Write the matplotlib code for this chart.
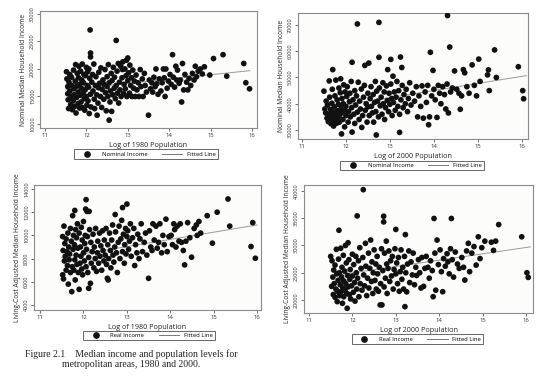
import matplotlib
matplotlib.use("Agg")
import matplotlib.pyplot as plt
from matplotlib.lines import Line2D

plt.rcParams['font.family'] = ['Open Sans', 'DejaVu Sans']

# ---------------- Panel 1: 1980 nominal (x = log pop, y = income in $1000) ----------------
p1 = [(11.52,19.5),(11.53,18.2),(11.55,16.8),(11.55,15.5),(11.56,14.4),(11.57,12.8),(11.58,17.6),(11.6,19.0),(11.6,16.0),(11.62,13.5),(11.63,15.0),(11.64,18.5),(11.65,17.0),(11.66,12.6),(11.68,14.2),(11.69,19.8),(11.7,16.4),(11.7,15.3),
(11.72,13.2),(11.73,17.8),(11.74,20.8),(11.75,12.0),(11.76,14.8),(11.77,16.9),(11.78,19.2),(11.8,15.8),(11.8,13.7),(11.81,18.4),(11.82,20.5),(11.83,17.2),(11.84,12.9),(11.85,15.2),(11.86,19.6),(11.87,14.0),(11.88,16.5),(11.89,18.0),(11.9,20.9),(11.9,13.0),
(11.92,15.6),(11.93,17.5),(11.94,19.0),(11.95,14.6),(11.96,12.5),(11.97,16.2),(11.98,18.8),(12.0,20.3),(12.0,15.0),(12.01,13.4),(12.02,17.0),(12.03,19.5),(12.04,14.2),(12.05,16.7),(12.06,20.0),(12.07,11.9),(12.08,18.3),(12.09,27.1),(12.1,22.9),(12.1,22.2),(12.1,15.4),(12.11,13.1),
(12.13,17.6),(12.15,19.0),(12.16,16.0),(12.18,20.9),(12.19,14.5),(12.2,12.8),(12.22,17.0),(12.23,18.6),(12.25,15.3),(12.26,11.6),(12.28,13.8),(12.29,16.6),(12.3,19.4),(12.32,17.4),(12.34,15.0),(12.35,20.2),(12.37,13.0),(12.38,16.3),(12.4,18.0),
(12.42,14.5),(12.43,17.2),(12.45,19.9),(12.46,15.7),(12.48,12.4),(12.5,16.8),(12.5,18.6),(12.52,15.0),(12.53,20.8),(12.55,10.7),(12.55,17.5),(12.57,14.0),(12.58,16.0),(12.6,19.2),(12.61,12.3),(12.62,17.9),(12.64,15.3),(12.65,20.3),(12.67,16.5),(12.68,18.5),(12.7,14.6),(12.72,25.2),(12.72,17.0),
(12.74,19.6),(12.75,15.6),(12.77,21.0),(12.78,13.8),(12.8,17.6),(12.81,16.2),(12.83,20.5),(12.84,15.0),(12.86,18.4),(12.87,19.9),(12.88,21.3),(12.9,15.5),(12.91,17.2),(12.93,20.0),(12.94,16.4),(12.96,18.8),(12.97,21.6),(12.98,15.0),(13.0,22.0),(13.0,17.9),
(13.02,19.3),(13.04,15.6),(13.05,20.7),(13.07,17.0),(13.09,18.4),(13.1,15.0),(13.12,19.8),(13.14,16.5),(13.16,17.8),(13.18,15.0),(13.2,18.9),(13.22,16.2),(13.25,17.5),(13.27,15.0),(13.3,19.9),(13.32,16.8),(13.35,18.2),(13.37,15.0),(13.4,19.2),(13.42,17.0),(13.45,15.8),(13.5,11.6),
(13.52,18.0),(13.55,16.4),(13.58,17.5),(13.6,15.8),(13.63,18.5),(13.66,16.8),(13.68,20.0),(13.7,17.3),(13.73,15.4),(13.76,18.2),(13.8,16.0),(13.83,17.5),(13.86,20.0),(13.88,18.4),(13.9,15.0),(13.92,20.0),(13.95,16.5),(13.98,17.8),
(14.02,19.0),(14.05,17.2),(14.08,22.6),(14.1,18.5),(14.13,16.7),(14.16,20.5),(14.18,18.0),(14.2,19.8),(14.24,17.4),(14.27,18.0),(14.3,14.0),(14.32,21.0),(14.35,16.2),(14.38,19.0),(14.42,17.6),(14.45,16.2),(14.48,18.3),
(14.52,17.0),(14.56,19.2),(14.6,18.0),(14.63,20.5),(14.66,18.6),(14.7,19.6),(14.75,20.0),(14.8,19.1),(14.85,20.4),(14.98,18.9),
(15.07,21.9),(15.3,22.6),(15.39,18.7),(15.8,21.0),(15.85,17.5),(15.94,16.4)]
nominal_1980_x = [p[0] for p in p1]
nominal_1980_y = [p[1] * 1000 for p in p1]
fit_1980_nom_x = [11.5, 15.95]
fit_1980_nom_y = [16200, 19700]

# ---------------- Panel 2: 2000 nominal ----------------
p2 = [(11.5,44.8),(11.52,38.0),(11.54,36.5),(11.55,41.0),(11.57,34.5),(11.58,39.5),(11.6,33.2),(11.6,36.0),(11.62,48.7),(11.63,42.5),(11.64,35.0),(11.65,37.8),(11.66,32.4),(11.67,34.0),(11.68,40.2),(11.69,45.5),(11.7,53.0),(11.7,36.8),(11.71,33.5),
(11.72,31.5),(11.73,35.5),(11.74,38.8),(11.75,43.0),(11.76,34.2),(11.77,49.0),(11.78,36.0),(11.79,32.6),(11.8,41.5),(11.8,37.3),(11.82,34.8),(11.83,39.8),(11.84,46.0),(11.85,33.0),(11.86,35.8),(11.87,44.2),(11.88,49.5),(11.89,38.2),(11.9,28.5),(11.9,36.6),(11.91,42.0),
(11.93,34.0),(11.94,40.0),(11.95,47.2),(11.96,37.5),(11.97,31.2),(11.98,44.5),(12.0,35.5),(12.0,39.0),(12.02,42.8),(12.03,46.5),(12.05,33.0),(12.06,37.0),(12.08,40.8),(12.09,44.0),(12.1,35.0),(12.12,48.5),(12.13,38.5),(12.14,55.8),(12.14,29.2),(12.16,41.5),(12.18,36.0),(12.2,45.0),(12.2,32.5),
(12.22,39.5),(12.24,43.0),(12.26,70.4),(12.26,36.8),(12.28,48.2),(12.3,34.0),(12.31,41.0),(12.33,38.0),(12.35,45.6),(12.36,31.0),(12.38,35.5),(12.4,42.5),(12.42,47.0),(12.43,54.6),(12.44,37.5),(12.46,40.0),(12.48,33.0),(12.5,44.0),(12.5,38.8),
(12.52,55.5),(12.53,35.5),(12.55,42.0),(12.57,46.5),(12.58,39.0),(12.6,36.5),(12.62,43.5),(12.63,33.0),(12.65,40.5),(12.67,48.5),(12.68,37.0),(12.69,28.1),(12.7,44.8),(12.72,41.0),(12.74,35.0),(12.75,71.0),(12.75,57.7),(12.76,46.0),(12.78,39.2),
(12.8,42.5),(12.82,36.0),(12.84,48.0),(12.85,40.0),(12.87,44.5),(12.88,34.0),(12.9,38.5),(12.92,46.8),(12.94,41.2),(12.95,53.0),(12.97,37.0),(12.98,44.0),(13.0,39.8),(13.02,56.9),(13.02,47.5),(13.04,42.0),(13.05,35.5),(13.07,50.5),(13.08,40.5),(13.1,44.5),
(13.12,37.5),(13.14,42.5),(13.16,48.5),(13.18,39.0),(13.2,45.0),(13.22,29.1),(13.22,36.0),(13.24,57.8),(13.25,41.5),(13.27,53.8),(13.28,47.0),(13.3,38.5),(13.32,43.5),(13.35,40.0),(13.37,45.5),(13.4,37.0),(13.42,42.0),(13.45,48.0),(13.48,39.5),
(13.52,44.0),(13.56,41.0),(13.6,46.5),(13.63,35.0),(13.66,43.0),(13.7,39.0),(13.73,46.8),(13.76,34.5),(13.8,44.5),(13.83,40.5),(13.86,47.0),(13.88,32.0),(13.9,35.0),(13.92,59.6),(13.95,43.0),(13.98,52.7),(14.0,45.5),
(14.03,41.5),(14.07,34.8),(14.1,47.0),(14.13,44.0),(14.16,40.0),(14.2,46.5),(14.24,43.5),(14.27,38.0),(14.3,47.5),(14.31,73.6),(14.33,36.5),(14.36,61.6),(14.38,44.5),(14.42,46.0),(14.47,52.5),
(14.52,45.5),(14.57,44.0),(14.6,37.9),(14.63,43.0),(14.67,53.0),(14.7,51.8),(14.75,46.5),(14.8,44.0),(14.87,54.8),(14.92,47.0),(14.97,43.0),(15.02,57.0),
(15.05,48.5),(15.22,51.0),(15.24,52.9),(15.26,45.0),(15.38,60.5),(15.42,50.0),(15.92,54.1),(16.02,45.0),(16.04,41.9)]
nominal_2000_x = [p[0] for p in p2]
nominal_2000_y = [p[1] * 1000 for p in p2]
fit_2000_nom_x = [11.5, 16.1]
fit_2000_nom_y = [38300, 50700]

# ---------------- Panel 3: 1980 real ----------------
p3 = [(11.52,9.9),(11.52,6.6),(11.53,8.7),(11.54,6.25),(11.55,10.8),(11.56,7.8),(11.57,9.3),(11.58,8.2),(11.6,7.0),(11.6,9.7),(11.62,8.6),(11.63,7.4),(11.64,10.2),(11.65,5.8),(11.66,9.0),(11.67,7.9),(11.68,8.4),(11.7,6.8),(11.7,10.6),
(11.72,9.5),(11.73,5.15),(11.74,7.3),(11.75,11.7),(11.76,8.8),(11.77,10.0),(11.78,7.0),(11.79,9.2),(11.8,12.15),(11.8,7.9),(11.81,6.16),(11.82,10.5),(11.83,8.3),(11.84,9.8),(11.85,7.5),(11.86,11.0),(11.87,8.9),(11.88,6.8),(11.9,5.35),(11.9,10.2),
(11.92,7.6),(11.93,9.0),(11.94,8.2),(11.95,10.7),(11.96,7.1),(11.97,9.6),(11.98,6.6),(12.0,8.5),(12.0,11.2),(12.02,7.8),(12.03,9.3),(12.04,10.0),(12.05,12.27),(12.06,13.08),(12.06,7.3),(12.07,8.8),(12.08,12.07),(12.09,9.9),(12.1,6.8),(12.12,5.44),(12.12,8.1),(12.13,12.07),(12.14,10.5),(12.16,5.87),(12.17,9.4),(12.18,7.6),(12.2,8.6),
(12.22,10.1),(12.24,7.2),(12.25,9.0),(12.27,8.0),(12.28,10.6),(12.3,6.9),(12.32,8.5),(12.33,9.5),(12.35,7.6),(12.37,10.2),(12.38,8.2),(12.4,9.1),(12.42,7.0),(12.44,10.4),(12.45,8.7),(12.47,7.8),(12.48,9.6),(12.5,8.3),
(12.52,10.6),(12.53,7.5),(12.55,6.3),(12.56,9.2),(12.57,6.16),(12.58,8.0),(12.6,10.2),(12.62,8.7),(12.63,7.2),(12.65,9.6),(12.67,10.9),(12.68,8.3),(12.7,7.7),(12.72,9.0),(12.73,11.8),(12.74,10.3),(12.76,8.5),(12.78,6.8),(12.8,9.4),
(12.82,10.8),(12.84,8.0),(12.86,9.7),(12.88,11.3),(12.9,12.4),(12.9,8.6),(12.92,10.1),(12.94,7.6),(12.95,9.2),(12.97,10.6),(12.98,8.4),(13.0,12.7),(13.0,9.9),(13.02,10.4),(13.04,8.8),(13.06,9.5),(13.08,11.0),
(13.1,8.2),(13.13,9.8),(13.16,10.6),(13.18,7.4),(13.2,9.2),(13.23,8.5),(13.25,10.1),(13.28,8.0),(13.3,9.7),(13.33,11.0),(13.36,8.6),(13.4,9.4),(13.43,10.2),(13.46,8.3),(13.5,6.3),
(13.52,10.4),(13.55,9.0),(13.58,8.7),(13.6,11.0),(13.63,9.6),(13.67,10.8),(13.7,8.9),(13.73,9.4),(13.76,11.0),(13.8,8.5),(13.83,10.0),(13.86,9.2),(13.9,11.4),(13.93,8.6),(13.97,9.9),
(14.02,10.0),(14.05,9.2),(14.08,11.0),(14.1,10.5),(14.13,9.0),(14.16,10.8),(14.2,9.5),(14.23,11.0),(14.26,9.4),(14.3,8.7),(14.33,7.46),(14.36,9.5),(14.4,11.1),(14.45,9.8),(14.49,8.12),
(14.55,10.6),(14.6,10.9),(14.62,10.0),(14.66,11.2),(14.7,10.2),(14.85,11.7),(14.97,9.33),(15.08,12.0),(15.33,13.14),(15.37,10.8),(15.86,9.04),(15.9,11.1),(15.96,8.03)]
real_1980_x = [p[0] for p in p3]
real_1980_y = [p[1] * 1000 for p in p3]
fit_1980_real_x = [11.5, 16.0]
fit_1980_real_y = [8100, 10900]

# ---------------- Panel 4: 2000 real ----------------
p4 = [(11.5,28.0),(11.52,22.5),(11.53,27.2),(11.55,24.2),(11.56,21.0),(11.57,25.5),(11.58,23.0),(11.6,20.5),(11.6,26.4),(11.62,22.0),(11.63,29.3),(11.64,24.8),(11.65,19.7),(11.66,21.6),(11.67,23.6),(11.68,27.5),(11.69,32.8),(11.7,25.0),(11.7,20.8),
(11.72,22.8),(11.73,29.5),(11.74,21.5),(11.75,24.2),(11.76,26.0),(11.77,19.4),(11.78,22.2),(11.79,28.2),(11.8,23.5),(11.8,20.6),(11.82,25.3),(11.83,21.8),(11.84,30.0),(11.85,23.0),(11.86,26.8),(11.87,21.2),(11.88,18.48),(11.89,24.5),(11.9,22.4),(11.9,30.5),
(11.92,27.4),(11.93,21.0),(11.94,23.8),(11.95,25.6),(11.96,20.2),(11.98,22.6),(12.0,28.4),(12.0,24.4),(12.02,21.4),(12.03,26.5),(12.05,23.2),(12.06,19.8),(12.08,28.0),(12.09,25.0),(12.1,22.0),(12.11,35.43),(12.12,24.0),(12.14,27.2),(12.15,20.6),(12.17,29.6),(12.18,23.0),(12.2,25.8),
(12.22,21.8),(12.24,27.8),(12.25,40.24),(12.26,24.6),(12.28,22.6),(12.3,30.4),(12.31,26.2),(12.33,20.8),(12.35,24.0),(12.37,28.6),(12.38,22.2),(12.4,25.8),(12.42,31.0),(12.44,23.4),(12.45,27.0),(12.47,21.2),(12.48,25.0),(12.5,29.2),
(12.52,23.6),(12.54,26.6),(12.55,22.0),(12.57,28.0),(12.58,24.8),(12.6,21.6),(12.62,26.0),(12.64,19.1),(12.65,23.0),(12.67,29.4),(12.68,19.1),(12.7,25.4),(12.72,35.37),(12.72,34.33),(12.73,22.4),(12.74,28.6),(12.76,24.0),(12.78,30.8),(12.79,26.6),
(12.8,21.2),(12.82,25.8),(12.84,29.0),(12.86,23.4),(12.88,27.2),(12.9,24.4),(12.92,28.0),(12.94,22.0),(12.96,25.6),(12.98,29.4),(13.0,32.95),(13.0,24.8),(13.02,26.8),(13.04,23.0),(13.06,27.8),(13.08,21.6),(13.1,25.2),
(13.12,29.2),(13.14,23.8),(13.16,26.0),(13.18,22.0),(13.2,28.0),(13.21,18.78),(13.22,32.0),(13.23,25.0),(13.25,21.5),(13.27,26.6),(13.3,29.0),(13.32,23.2),(13.35,27.0),(13.38,24.6),(13.4,28.6),(13.43,22.8),(13.46,26.0),(13.48,24.5),
(13.52,27.4),(13.55,25.0),(13.58,22.2),(13.6,27.8),(13.64,22.5),(13.67,25.8),(13.7,28.0),(13.74,26.0),(13.77,24.0),(13.8,27.2),(13.84,25.4),(13.86,20.61),(13.88,34.96),(13.9,28.6),(13.92,21.8),(13.95,31.0),(13.98,26.5),
(14.02,29.2),(14.05,25.2),(14.08,21.52),(14.1,27.6),(14.14,26.2),(14.18,28.5),(14.2,27.0),(14.23,24.8),(14.26,29.4),(14.28,34.96),(14.3,27.4),(14.33,24.2),(14.37,28.8),(14.42,26.6),(14.46,25.8),
(14.52,27.8),(14.56,26.0),(14.59,23.66),(14.63,29.0),(14.67,30.4),(14.7,25.2),(14.75,28.6),(14.8,29.8),(14.85,26.4),(14.9,31.6),(14.94,27.6),(14.98,29.6),(15.05,30.8),(15.2,30.6),(15.25,29.1),(15.3,30.8),(15.37,33.84),(15.9,31.6),(16.02,25.0),(16.05,24.15)]
real_2000_x = [p[0] for p in p4]
real_2000_y = [p[1] * 1000 for p in p4]
fit_2000_real_x = [11.5, 16.1]
fit_2000_real_y = [24400, 29750]

x_ticks = [11, 12, 13, 14, 15, 16]

fig = plt.figure(figsize=(5.4, 3.8), dpi=100)
fig.patch.set_facecolor('white')

W, H = 540.0, 380.0

def panel(rect_px, xs, ys, fx, fy, xlim, ylim, yticks, xlabel, ylabel, series_label, legend_center):
    l, t, r, b = rect_px
    ax = fig.add_axes([l / W, 1 - b / H, (r - l) / W, (b - t) / H])
    ax.set_facecolor('#fcfcfa')
    ax.plot(fx, fy, color='#9a9a9a', lw=0.7, zorder=2)
    ax.scatter(xs, ys, s=17, color='#111111', edgecolors='none', zorder=3)
    ax.set_xlim(*xlim)
    ax.set_ylim(*ylim)
    ax.set_xticks(x_ticks)
    ax.set_yticks(yticks)
    ax.set_xticklabels([str(v) for v in x_ticks], fontsize=4.2)
    ax.set_yticklabels([str(v) for v in yticks], fontsize=4.0, rotation=90, va='center')
    ax.tick_params(length=2, width=0.5, pad=1.5, colors='#333333')
    for s in ax.spines.values():
        s.set_color('#8a8a8a')
        s.set_linewidth(0.8)
    ax.set_xlabel(xlabel, fontsize=5.2, labelpad=3, color='#222222')
    ax.set_ylabel(ylabel, fontsize=4.8, labelpad=2, color='#222222')
    handles = [Line2D([], [], marker='o', ls='none', color='#111111', markersize=3.8),
               Line2D([], [], color='#777777', lw=0.7)]
    leg = fig.legend(handles, [series_label, 'Fitted Line'], loc='center',
                     bbox_to_anchor=(legend_center[0] / W, 1 - legend_center[1] / H),
                     ncol=2, fontsize=4.2, frameon=True, fancybox=False,
                     handlelength=3.5, columnspacing=2.5, borderpad=0.35,
                     handletextpad=0.8)
    leg.get_frame().set_edgecolor('#222222')
    leg.get_frame().set_linewidth(0.6)
    return ax

panel((40, 11, 257, 128), nominal_1980_x, nominal_1980_y, fit_1980_nom_x, fit_1980_nom_y,
      (10.88, 16.12), (9270, 30545), [10000, 15000, 20000, 25000, 30000],
      'Log of 1980 Population', 'Nominal Median Household Income', 'Nominal Income', (146, 154))

panel((298, 13, 528, 139), nominal_2000_x, nominal_2000_y, fit_2000_nom_x, fit_2000_nom_y,
      (10.91, 16.14), (26571, 74571), [30000, 40000, 50000, 60000, 70000],
      'Log of 2000 Population', 'Nominal Median Household Income', 'Nominal Income', (412, 165.5))

panel((34, 185, 261, 310), real_1980_x, real_1980_y, fit_1980_real_x, fit_1980_real_y,
      (10.86, 16.09), (3569, 14345), [4000, 6000, 8000, 10000, 12000, 14000],
      'Log of 1980 Population', 'Living-Cost Adjusted Median Household Income', 'Real Income', (149, 335.5))

panel((304, 185, 533, 313), real_2000_x, real_2000_y, fit_2000_real_x, fit_2000_real_y,
      (10.885, 16.16), (17615, 41100), [20000, 25000, 30000, 35000, 40000],
      'Log of 2000 Population', 'Living-Cost Adjusted Median Household Income', 'Real Income', (417.5, 339))

fig.text(131 / W, 1 - 359 / H,
         'Figure 2.1    Median income and population levels for\nmetropolitan areas, 1980 and 2000.',
         ha='center', va='center', multialignment='center', fontsize=7,
         family=['Liberation Serif', 'DejaVu Serif'],
         linespacing=1.15, color='#222222')

fig.savefig('out.png', dpi=100, facecolor='white')
